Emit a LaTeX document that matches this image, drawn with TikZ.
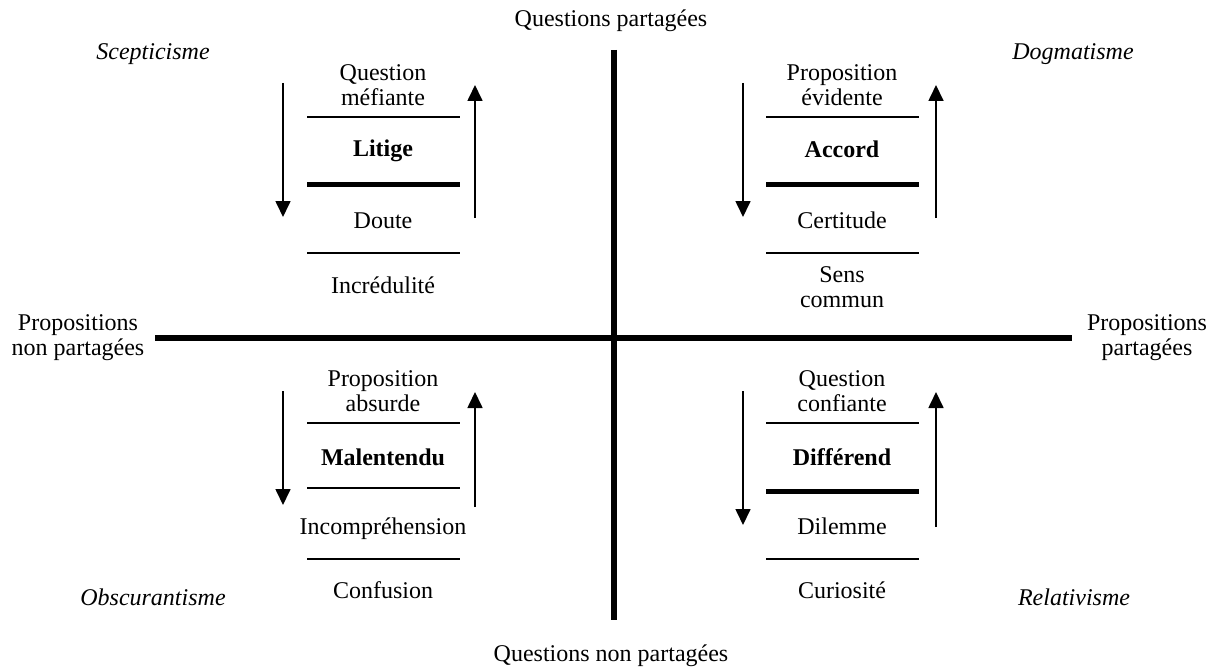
\documentclass[tikz,border=0pt]{standalone}
\usepackage{fontspec}
\setmainfont{Liberation Serif}
\usetikzlibrary{arrows.meta}

\tikzset{
	lbl/.style={font=\fontsize{24}{25}\selectfont, align=center, inner sep=0pt},
	one/.style={lbl, anchor=base},
	key/.style={one, font=\fontsize{24}{25}\selectfont\bfseries},
	pole/.style={one, font=\fontsize{24}{25}\selectfont\itshape},
	axis/.style={line width=6pt},
	rung/.style={line width=1.6pt},
	thickrung/.style={line width=5pt},
	flow/.style={line width=1.7pt, -{Triangle[width=15pt,length=16pt]}}
}

\begin{document}
\begin{tikzpicture}[x=1pt,y=-1pt]
	\useasboundingbox (0,0) rectangle (1217,671);
	
	% axes
	\coordinate (top) at (614,50);
	\coordinate (bot) at (614,620);
	\coordinate (west) at (155,338);
	\coordinate (east) at (1072,338);
	\draw[axis] (top)--(bot);
	\draw[axis] (west)--(east);
	
	\node[one] (qp) at (611,27) {Questions partag\'ees};
	\node[one] (qnp) at (611,661) {Questions non partag\'ees};
	\node[lbl] (pnp) at (78,338) {Propositions\\non partag\'ees};
	\node[lbl] (pp) at (1147,338) {Propositions\\partag\'ees};
	
	\node[pole] (scep) at (153,60) {Scepticisme};
	\node[pole] (dogm) at (1073,60) {Dogmatisme};
	\node[pole] (obsc) at (153,605) {Obscurantisme};
	\node[pole] (rela) at (1074,605) {Relativisme};
	
	% top left
	\node[lbl] (tla) at (383,85) {Question\\m\'efiante};
	\node[key] (tlb) at (383,157) {Litige};
	\node[one] (tlc) at (383,228) {Doute};
	\node[one] (tld) at (383,293) {Incr\'edulit\'e};
	\draw[rung] (307,117)--(460,117);
	\draw[thickrung] (307,185)--(460,185);
	\draw[rung] (307,253)--(460,253);
	\coordinate (tl1) at (283,83);
	\coordinate (tl2) at (283,217);
	\coordinate (tl3) at (475,218);
	\coordinate (tl4) at (475,85);
	\draw[flow] (tl1)--(tl2);
	\draw[flow] (tl3)--(tl4);
	
	% top right
	\node[lbl] (tra) at (842,85) {Proposition\\\'evidente};
	\node[key] (trb) at (842,158) {Accord};
	\node[one] (trc) at (842,228) {Certitude};
	\node[lbl] (trd) at (842,287) {Sens\\commun};
	\draw[rung] (766,117)--(919,117);
	\draw[thickrung] (766,185)--(919,185);
	\draw[rung] (766,253)--(919,253);
	\coordinate (tr1) at (743,83);
	\coordinate (tr2) at (743,217);
	\coordinate (tr3) at (936,218);
	\coordinate (tr4) at (936,85);
	\draw[flow] (tr1)--(tr2);
	\draw[flow] (tr3)--(tr4);
	
	% bottom left
	\node[lbl] (bla) at (383,391) {Proposition\\absurde};
	\node[key] (blb) at (383,465) {Malentendu};
	\node[one] (blc) at (383,534) {Incompr\'ehension};
	\node[one] (bld) at (383,598) {Confusion};
	\draw[rung] (307,423)--(460,423);
	\draw[rung] (307,488)--(460,488);
	\draw[rung] (307,559)--(460,559);
	\coordinate (bl1) at (283,391);
	\coordinate (bl2) at (283,505);
	\coordinate (bl3) at (475,507);
	\coordinate (bl4) at (475,392);
	\draw[flow] (bl1)--(bl2);
	\draw[flow] (bl3)--(bl4);
	
	% bottom right
	\node[lbl] (bra) at (842,391) {Question\\confiante};
	\node[key] (brb) at (842,465) {Diff\'erend};
	\node[one] (brc) at (842,534) {Dilemme};
	\node[one] (brd) at (842,598) {Curiosit\'e};
	\draw[rung] (766,423)--(919,423);
	\draw[thickrung] (766,491)--(919,491);
	\draw[rung] (766,559)--(919,559);
	\coordinate (br1) at (743,391);
	\coordinate (br2) at (743,525);
	\coordinate (br3) at (936,527);
	\coordinate (br4) at (936,392);
	\draw[flow] (br1)--(br2);
	\draw[flow] (br3)--(br4);
\end{tikzpicture}
\end{document}
